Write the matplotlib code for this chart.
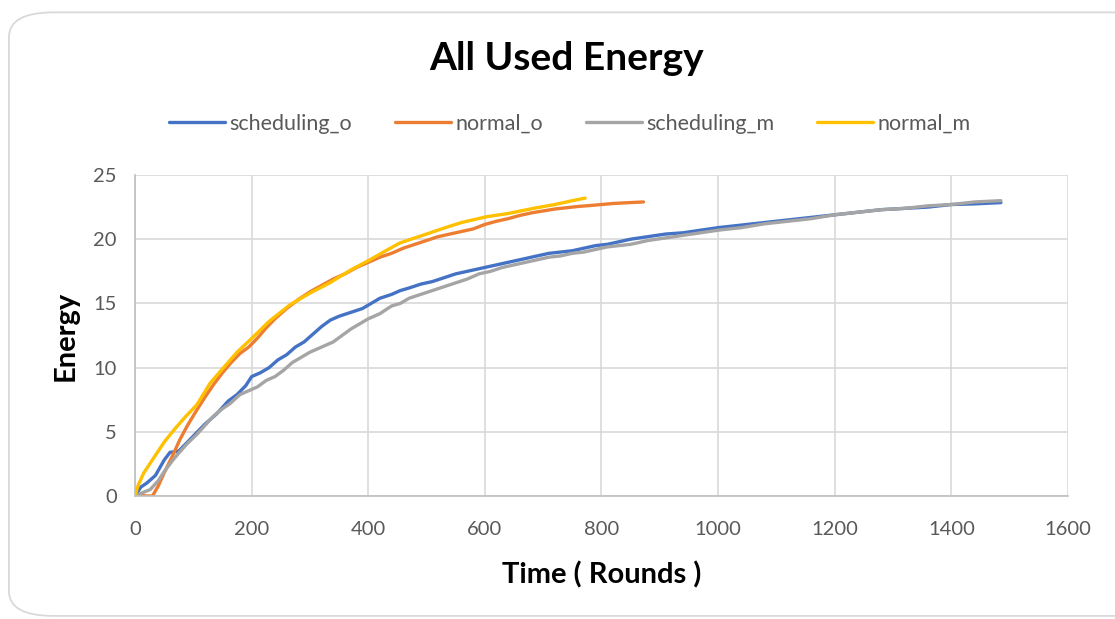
import matplotlib.pyplot as plt
from matplotlib.patches import FancyBboxPatch

# energy used over time for each strategy
sched_o_x = [0, 10, 20, 35, 50, 60, 75, 90, 105, 120, 140, 160, 175, 190, 200, 215, 230, 245, 260, 275,
             290, 305, 320, 335, 350, 370, 390, 405, 420, 440, 455, 470, 490, 510, 530, 550, 570, 590, 610,
             630, 650, 670, 690, 710, 730, 750, 770, 790, 810, 830, 850, 880, 910, 940, 970, 1000, 1040,
             1080, 1120, 1160, 1200, 1240, 1280, 1320, 1360, 1400, 1440, 1485]
sched_o_y = [0, 0.7, 1.0, 1.6, 2.8, 3.4, 3.5, 4.2, 4.9, 5.6, 6.4, 7.4, 7.9, 8.6, 9.3, 9.6, 10.0, 10.6, 11.0, 11.6,
             12.0, 12.6, 13.2, 13.7, 14.0, 14.3, 14.6, 15.0, 15.4, 15.7, 16.0, 16.2, 16.5, 16.7, 17.0, 17.3, 17.5,
             17.7, 17.9, 18.1, 18.3, 18.5, 18.7, 18.9, 19.0, 19.1, 19.3, 19.5, 19.6, 19.8, 20.0, 20.2, 20.4, 20.5,
             20.7, 20.9, 21.1, 21.3, 21.5, 21.7, 21.9, 22.1, 22.3, 22.4, 22.5, 22.7, 22.75, 22.85]

sched_m_x = [0, 15, 26, 40, 50, 65, 77, 90, 106, 120, 134, 150, 163, 180, 195, 210, 225, 240, 255, 270,
             285, 300, 320, 340, 355, 370, 385, 400, 420, 440, 455, 470, 490, 510, 530, 550, 570, 590, 610,
             630, 650, 670, 690, 710, 730, 750, 770, 790, 810, 830, 850, 880, 910, 940, 970, 1000, 1040,
             1080, 1120, 1160, 1200, 1240, 1280, 1320, 1360, 1400, 1440, 1485]
sched_m_y = [0, 0.3, 0.5, 1.2, 1.9, 2.8, 3.45, 4.1, 4.8, 5.5, 6.2, 6.8, 7.2, 7.9, 8.2, 8.5, 9.0, 9.3, 9.8, 10.4,
             10.8, 11.2, 11.6, 12.0, 12.5, 13.0, 13.4, 13.8, 14.2, 14.8, 15.0, 15.4, 15.7, 16.0, 16.3, 16.6, 16.9,
             17.3, 17.5, 17.8, 18.0, 18.2, 18.4, 18.6, 18.7, 18.9, 19.0, 19.2, 19.4, 19.5, 19.6, 19.9, 20.1, 20.3,
             20.5, 20.7, 20.9, 21.2, 21.4, 21.6, 21.9, 22.1, 22.3, 22.4, 22.6, 22.7, 22.9, 23.0]

normal_o_x = [0, 10, 20, 30, 40, 50, 65, 77, 90, 106, 120, 135, 150, 165, 180, 195, 210, 225, 240, 260,
              280, 300, 320, 340, 360, 380, 400, 420, 440, 460, 480, 500, 520, 540, 560, 580, 600, 620, 640,
              660, 680, 700, 720, 740, 760, 780, 800, 820, 840, 872]
normal_o_y = [0, 0.05, 0, 0, 0.8, 1.8, 3.2, 4.4, 5.5, 6.7, 7.7, 8.7, 9.6, 10.4, 11.1, 11.6, 12.3, 13.1, 13.8, 14.6,
              15.3, 15.9, 16.4, 16.9, 17.3, 17.8, 18.2, 18.6, 18.9, 19.3, 19.6, 19.9, 20.2, 20.4, 20.6, 20.8,
              21.15, 21.4, 21.6, 21.85, 22.05, 22.2, 22.35, 22.45, 22.55, 22.62, 22.7, 22.78, 22.83, 22.9]

normal_m_x = [0, 5, 15, 34, 50, 66, 85, 106, 129, 150, 175, 203, 230, 266, 300, 334, 370, 403, 430, 454,
              480, 500, 529, 560, 603, 640, 683, 720, 750, 772]
normal_m_y = [0, 0.8, 1.8, 3.1, 4.2, 5.1, 6.1, 7.1, 8.8, 9.9, 11.2, 12.4, 13.6, 14.9, 15.8, 16.6, 17.6, 18.4, 19.1,
              19.7, 20.1, 20.4, 20.85, 21.3, 21.75, 22.0, 22.4, 22.7, 23.0, 23.2]

x_ticks = [0, 200, 400, 600, 800, 1000, 1200, 1400, 1600]
y_ticks = [0, 5, 10, 15, 20, 25]

plt.rcParams['font.family'] = ['Lato', 'DejaVu Sans']
txt = '#595959'; grid = '#d9d9d9'

fig = plt.figure(figsize=(11.15, 6.19), dpi=100)
# rounded frame around the whole chart
fig.patches.append(FancyBboxPatch((0.008, 0.005), 1.05, 0.975, boxstyle='round,pad=0,rounding_size=0.04',
                                  transform=fig.transFigure, fill=False, ec=grid, lw=1.3, zorder=0))

ax = fig.add_axes([0.1211, 0.1987, 0.8367, 0.5186])
ax.plot(sched_o_x, sched_o_y, color='#4472C4', lw=2.4, label='scheduling_o', solid_capstyle='round')
ax.plot(normal_o_x, normal_o_y, color='#ED7D31', lw=2.4, label='normal_o', solid_capstyle='round')
ax.plot(sched_m_x, sched_m_y, color='#A5A5A5', lw=2.4, label='scheduling_m', solid_capstyle='round')
ax.plot(normal_m_x, normal_m_y, color='#FFC000', lw=2.4, label='normal_m', solid_capstyle='round')

ax.set_xlim(0, 1600); ax.set_ylim(0, 25)
ax.set_xticks(x_ticks); ax.set_yticks(y_ticks)
ax.grid(True, color=grid, lw=1.2); ax.set_axisbelow(True)
for s in ['top', 'right']: ax.spines[s].set_visible(False)
for s in ['left', 'bottom']: ax.spines[s].set_color('#bfbfbf'); ax.spines[s].set_linewidth(1.2)
ax.tick_params(length=0, labelsize=14.5, labelcolor=txt, pad=18)
ax.tick_params(axis='y', pad=13)

ax.set_xlabel('Time ( Rounds )', fontsize=21, fontweight='bold', labelpad=17)
ax.set_ylabel('Energy', fontsize=21, fontweight='bold', labelpad=11)
fig.text(0.508, 0.905, 'All Used Energy', ha='center', va='center', fontsize=28, fontweight='bold')

fig.legend(loc='center', bbox_to_anchor=(0.511, 0.8), ncol=4, frameon=False, fontsize=15.5,
           handlelength=2.6, handletextpad=0.2, columnspacing=2.0, labelcolor=txt)

fig.savefig('out.png', dpi=100)
